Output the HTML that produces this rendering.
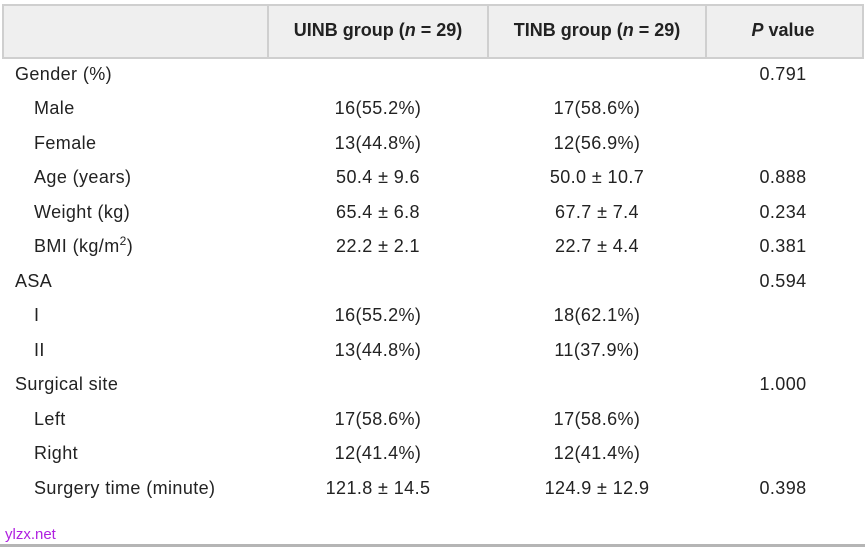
<!DOCTYPE html>
<html><head><meta charset="utf-8"><style>
body{margin:0;width:865px;height:550px;background:#fff;position:relative;overflow:hidden;font-family:"Liberation Sans",sans-serif;color:#222}
.hd{position:absolute;left:2px;top:4px;width:858px;height:51px;background:#efefef;border:2px solid #cfcfcf}
.sep{position:absolute;top:4px;width:2px;height:53px;background:#cfcfcf}
.t{position:absolute;font-size:18px;line-height:20px;white-space:nowrap;transform:translateY(-50%);letter-spacing:0.4px}
.c{transform:translate(-50%,-50%)}
.b{font-weight:bold;letter-spacing:0}
</style></head><body>
<div class="hd"></div>
<div class="sep" style="left:267px"></div>
<div class="sep" style="left:487px"></div>
<div class="sep" style="left:705px"></div>
<div class="t c b" style="left:378px;top:30px">UINB group (<i>n</i> = 29)</div>
<div class="t c b" style="left:597px;top:30px">TINB group (<i>n</i> = 29)</div>
<div class="t c b" style="left:783px;top:30px"><i>P</i> value</div>

<div class="t" style="left:15px;top:74px">Gender (%)</div>
<div class="t c" style="left:783px;top:74px">0.791</div>
<div class="t" style="left:34px;top:108px">Male</div>
<div class="t c" style="left:378px;top:108px">16(55.2%)</div>
<div class="t c" style="left:597px;top:108px">17(58.6%)</div>
<div class="t" style="left:34px;top:143px">Female</div>
<div class="t c" style="left:378px;top:143px">13(44.8%)</div>
<div class="t c" style="left:597px;top:143px">12(56.9%)</div>
<div class="t" style="left:34px;top:177px">Age (years)</div>
<div class="t c" style="left:378px;top:177px">50.4 ± 9.6</div>
<div class="t c" style="left:597px;top:177px">50.0 ± 10.7</div>
<div class="t c" style="left:783px;top:177px">0.888</div>
<div class="t" style="left:34px;top:212px">Weight (kg)</div>
<div class="t c" style="left:378px;top:212px">65.4 ± 6.8</div>
<div class="t c" style="left:597px;top:212px">67.7 ± 7.4</div>
<div class="t c" style="left:783px;top:212px">0.234</div>
<div class="t" style="left:34px;top:246px">BMI (kg/m<sup style="font-size:12px;line-height:0">2</sup>)</div>
<div class="t c" style="left:378px;top:246px">22.2 ± 2.1</div>
<div class="t c" style="left:597px;top:246px">22.7 ± 4.4</div>
<div class="t c" style="left:783px;top:246px">0.381</div>
<div class="t" style="left:15px;top:281px">ASA</div>
<div class="t c" style="left:783px;top:281px">0.594</div>
<div class="t" style="left:34px;top:315px">I</div>
<div class="t c" style="left:378px;top:315px">16(55.2%)</div>
<div class="t c" style="left:597px;top:315px">18(62.1%)</div>
<div class="t" style="left:34px;top:350px">II</div>
<div class="t c" style="left:378px;top:350px">13(44.8%)</div>
<div class="t c" style="left:597px;top:350px">11(37.9%)</div>
<div class="t" style="left:15px;top:384px">Surgical site</div>
<div class="t c" style="left:783px;top:384px">1.000</div>
<div class="t" style="left:34px;top:419px">Left</div>
<div class="t c" style="left:378px;top:419px">17(58.6%)</div>
<div class="t c" style="left:597px;top:419px">17(58.6%)</div>
<div class="t" style="left:34px;top:453px">Right</div>
<div class="t c" style="left:378px;top:453px">12(41.4%)</div>
<div class="t c" style="left:597px;top:453px">12(41.4%)</div>
<div class="t" style="left:34px;top:488px">Surgery time (minute)</div>
<div class="t c" style="left:378px;top:488px">121.8 ± 14.5</div>
<div class="t c" style="left:597px;top:488px">124.9 ± 12.9</div>
<div class="t c" style="left:783px;top:488px">0.398</div>

<div class="t" style="left:5px;top:535px;font-size:15px;letter-spacing:0;color:#b020e0">ylzx.net</div>
<div style="position:absolute;left:0;top:544px;width:865px;height:3px;background:#b5b5b5"></div>
</body></html>
